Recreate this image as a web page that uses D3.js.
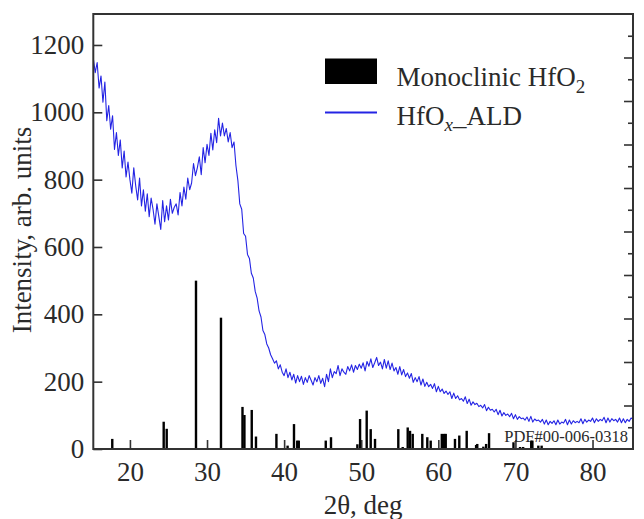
<!DOCTYPE html>
<html><head><meta charset="utf-8">
<script src="https://cdn.jsdelivr.net/npm/d3@7"></script>
<style>
body{margin:0;background:#fff}
svg{display:block}
text{font-family:"Liberation Serif","Times New Roman",serif;fill:#2a2a2a}
</style>
</head><body>
<svg id="chart" width="644" height="519"></svg>
<script>
// ---- data ----
const angleStart = 15.25;      // first 2θ sample, deg
const angleStep = 0.25;        // 2θ sampling step, deg
const intensityALD = [
  1160,1118,1148,
  1072,1108,1030,1090,
  975,1020,950,990,
  890,940,872,918,
  835,885,808,852,
  800,760,835,782,
  740,805,722,770,
  706,758,690,745,
  712,668,728,690,
  652,738,675,722,
  680,742,700,718,
  728,695,762,722,
  778,742,805,770,
  790,848,812,836,
  868,815,895,850,
  905,872,938,888,
  948,910,982,930,
  968,930,952,912,
  940,895,912,842,
  798,728,712,640,
  632,578,566,522,
  508,468,448,410,
  392,352,340,312,
  300,280,268,255,
  262,238,250,228,
  218,238,212,228,
  205,222,196,218,
  200,216,192,212,
  198,218,204,190,
  212,200,218,195,
  210,185,222,200,
  238,212,230,224,
  248,218,238,228,
  222,245,232,250,
  228,248,236,252,
  240,256,232,260,
  246,268,242,256,
  272,248,258,238,
  266,240,262,236,
  255,232,242,222,
  245,220,236,215,
  226,210,224,198,
  212,200,215,190,
  208,186,198,185,
  192,180,194,170,
  186,170,178,165,
  172,162,170,150,
  166,150,158,146,
  150,142,155,135,
  148,130,140,132,
  136,126,130,122,
  132,114,124,115,
  118,110,118,102,
  115,98,108,100,
  104,96,106,90,
  102,88,96,90,
  92,86,95,82,
  97,80,89,84,
  86,80,88,74,
  86,72,82,76,
  84,72,86,74,
  80,77,88,72,
  86,74,84,78,
  82,78,90,75,
  88,80,86,82,
  92,78,90,82,
  88,84,94,78,
  92,80,90,84,
  88,80,92,78,
  90,78,88,82,
  92,88
];
const stickAngles = [17.71,24.38,24.77,28.57,31.81,34.6,34.85,35.8,36.35,39.0,40.45,41.28,41.7,41.9,45.4,46.08,
  49.5,49.85,50.71,51.23,51.79,54.81,55.38,56.03,56.33,56.68,57.92,58.57,59.01,60.45,60.75,60.96,
  62.16,62.72,63.68,64.9,65.05,65.84,66.2,66.58,69.75,70.6,71.0,72.05,72.2,72.97,73.4];
const stickIntensities = [30,81,60,500,390,125,101,116,37,45,10,74,25,25,25,35,
  14,89,114,59,30,59,6,64,54,45,45,35,25,45,45,45,
  30,40,54,12,15,7,15,47,20,6,6,25,25,10,10];
const xTicks = [20,30,40,50,60,70,80];
const yTicks = [0,200,400,600,800,1000,1200];
const rightMajor = [10,20,30,40,50,60,70,80,90];
const rightMinor = [5,15,25,35,45,55,65,75,85,95];
const legendBars = "Monoclinic HfO";
const pdfLabel = "PDF#00-006-0318";

// ---- layout ----
const L = 93.3, R = 633, T = 14, B = 449;
const svg = d3.select("#chart");
const x = d3.scaleLinear().domain([15.25, 85.25]).range([L, R]);
const y = d3.scaleLinear().domain([0, 1292]).range([B, T]);
const yr = d3.scaleLinear().domain([0, 100]).range([B, T]);

svg.append("defs").append("clipPath").attr("id","clip")
  .append("rect").attr("x",L).attr("y",T).attr("width",R-L).attr("height",B-T);

// sticks
svg.append("g").selectAll("rect").data(stickAngles).join("rect")
  .attr("x", d => x(d) - 1.2)
  .attr("width", 2.4)
  .attr("y", (d,i) => y(stickIntensities[i]))
  .attr("height", (d,i) => y(0) - y(stickIntensities[i]))
  .attr("fill", "#000");

// curve
const pts = intensityALD.map((v,i) => [angleStart + i*angleStep, v]);
svg.append("path").datum(pts)
  .attr("clip-path","url(#clip)")
  .attr("fill","none").attr("stroke","#2424e4").attr("stroke-width",1.1)
  .attr("stroke-linejoin","round")
  .attr("d", d3.line().x(d => x(d[0])).y(d => y(d[1])));

// axes
const fs = 27;
const gx = svg.append("g").attr("transform",`translate(0,${B})`)
  .call(d3.axisBottom(x).tickValues(xTicks).tickSizeInner(-9).tickSizeOuter(0).tickPadding(13).tickFormat(d3.format("d")));
const gy = svg.append("g").attr("transform",`translate(${L},0)`)
  .call(d3.axisLeft(y).tickValues(yTicks).tickSizeInner(-9).tickSizeOuter(0).tickPadding(9).tickFormat(d3.format("d")));
const gr1 = svg.append("g").attr("transform",`translate(${R},0)`)
  .call(d3.axisRight(yr).tickValues(rightMajor).tickSizeInner(-9).tickSizeOuter(0).tickFormat(""));
const gr2 = svg.append("g").attr("transform",`translate(${R},0)`)
  .call(d3.axisRight(yr).tickValues(rightMinor).tickSizeInner(-5).tickSizeOuter(0).tickFormat(""));
[gx,gy,gr1,gr2].forEach(g => {
  g.attr("font-family",'"Liberation Serif",serif');
  g.select(".domain").remove();
  g.selectAll("line").attr("stroke","#333").attr("stroke-width",1.6);
  g.selectAll("text").attr("font-size",fs).attr("fill","#2a2a2a");
});

// frame
svg.append("rect").attr("x",L).attr("y",T).attr("width",R-L).attr("height",B-T)
  .attr("fill","none").attr("stroke","#333").attr("stroke-width",2);

// axis titles
svg.append("text").attr("x",(L+R)/2).attr("y",514).attr("text-anchor","middle")
  .attr("font-size",fs).text("2θ, deg");
svg.append("text").attr("transform",`translate(31,${230}) rotate(-90)`).attr("text-anchor","middle")
  .attr("font-size",fs).text("Intensity, arb. units");

// PDF label
svg.append("text").attr("x",628).attr("y",442).attr("text-anchor","end")
  .attr("font-size",16.5).attr("fill","#333").text(pdfLabel);

// legend
svg.append("rect").attr("x",325).attr("y",58.5).attr("width",52).attr("height",25.5).attr("fill","#000");
svg.append("line").attr("x1",325).attr("x2",377).attr("y1",112.5).attr("y2",112.5)
  .attr("stroke","#2424e4").attr("stroke-width",2);
const t1 = svg.append("text").attr("x",396.5).attr("y",86).attr("font-size",fs);
t1.append("tspan").text(legendBars);
t1.append("tspan").attr("font-size",19).attr("dy",7).text("2");
const t2 = svg.append("text").attr("x",396.5).attr("y",125).attr("font-size",fs);
t2.append("tspan").text("HfO");
t2.append("tspan").attr("font-size",19).attr("font-style","italic").attr("dy",6).text("x");
t2.append("tspan").attr("dy",-6).text("_ALD");
</script>
</body></html>
